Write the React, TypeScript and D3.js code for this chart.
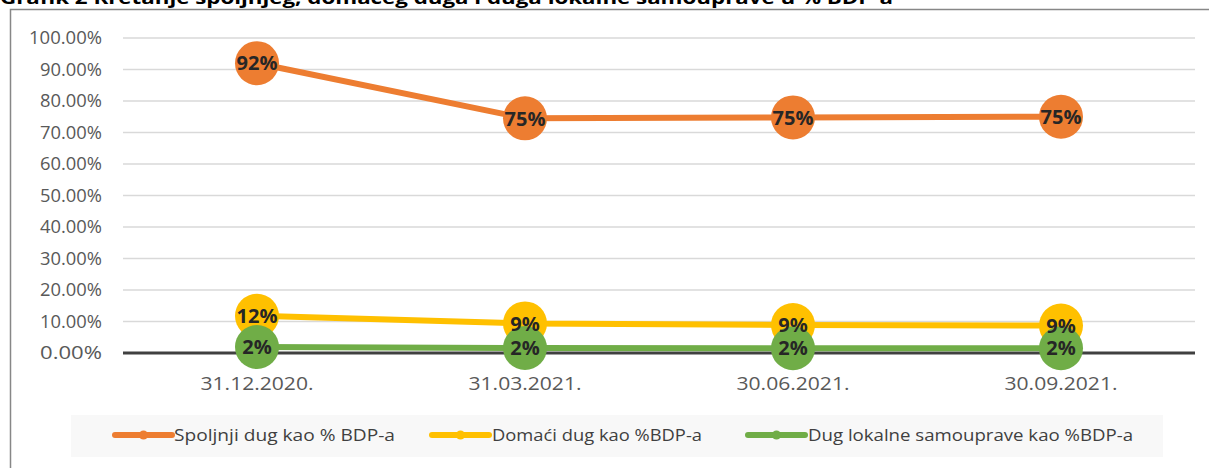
import React from "react";
import * as d3 from "d3";

const categories = ["31.12.2020.", "31.03.2021.", "30.06.2021.", "30.09.2021."];
const seriesNames = ["Spoljnji dug kao % BDP-a", "Domaći dug kao %BDP-a", "Dug lokalne samouprave kao %BDP-a"];
const spoljnji = [0.92, 0.745, 0.748, 0.75];
const domaci = [0.118, 0.094, 0.089, 0.087];
const lokalni = [0.019, 0.016, 0.015, 0.015];
const labelsSpoljnji = ["92%", "75%", "75%", "75%"];
const labelsDomaci = ["12%", "9%", "9%", "9%"];
const labelsLokalni = ["2%", "2%", "2%", "2%"];
const yTicks = [0, 0.1, 0.2, 0.3, 0.4, 0.5, 0.6, 0.7, 0.8, 0.9, 1.0];
const colors = ["#ED7D31", "#FFC000", "#70AD47"];
const title = "Grafik 2 Kretanje spoljnjeg, domaćeg duga i duga lokalne samouprave u % BDP-a";

const W = 1209, H = 468;
const plotL = 123, plotR = 1195, plotT = 38, plotB = 353;

export default function App() {
  const x = d3.scaleBand<string>().domain(categories).range([plotL, plotR]);
  const y = d3.scaleLinear().domain([0, 1]).range([plotB, plotT]);
  const cx = (c: string) => (x(c) as number) + x.bandwidth() / 2;
  const series = [
    { name: seriesNames[0], values: spoljnji, labels: labelsSpoljnji, color: colors[0] },
    { name: seriesNames[1], values: domaci, labels: labelsDomaci, color: colors[1] },
    { name: seriesNames[2], values: lokalni, labels: labelsLokalni, color: colors[2] },
  ];
  const line = d3.line<number>().x((_, i) => cx(categories[i])).y((d) => y(d));
  const fmt = d3.format(".2%");
  const legendItems = [
    { lx: 115, tx: 174, tw: 221 },
    { lx: 432, tx: 492, tw: 210 },
    { lx: 748, tx: 808, tw: 325 },
  ];
  return (
    <div style={{ position: "absolute", left: 0, top: 0 }}>
      <svg width={W} height={H} style={{ display: "block" }} fontFamily="'Open Sans', sans-serif">
        <rect x={0} y={0} width={W} height={H} fill="#fff" />
        <text x={0} y={3.5} fontSize={18} fontWeight="bold" fill="#000" textLength={893} lengthAdjust="spacingAndGlyphs">{title}</text>
        <rect x={10.5} y={9.5} width={1400} height={700} fill="none" stroke="#878787" strokeWidth={1.5} />
        {yTicks.map((t) => (
          <g key={t}>
            {t > 0 && <line x1={plotL} x2={plotR} y1={y(t)} y2={y(t)} stroke="#d9d9d9" strokeWidth={1.5} />}
            <text x={102} y={y(t)} dy="0.36em" textAnchor="end" fontSize={17.5} fill="#595959" textLength={t === 1 ? 73 : 62} lengthAdjust="spacingAndGlyphs">{fmt(t)}</text>
          </g>
        ))}
        <line x1={plotL} x2={plotR} y1={y(0)} y2={y(0)} stroke="#404040" strokeWidth={3} />
        {categories.map((c) => (
          <text key={c} x={cx(c)} y={383} dy="0.36em" textAnchor="middle" fontSize={19} fill="#595959" textLength={113} lengthAdjust="spacingAndGlyphs">{c}</text>
        ))}
        {series.map((s) => (
          <g key={s.name}>
            <path d={line(s.values) || ""} fill="none" stroke={s.color} strokeWidth={6} strokeLinejoin="round" />
            {s.values.map((v, i) => (
              <circle key={i} cx={cx(categories[i])} cy={y(v)} r={22} fill={s.color} />
            ))}
          </g>
        ))}
        {series.map((s) => (
          <g key={s.name + "l"}>
            {s.values.map((v, i) => (
              <text key={i} x={cx(categories[i])} y={y(v)} dy="0.36em" textAnchor="middle" fontSize={20} fontWeight="bold" fill="#262626">{s.labels[i]}</text>
            ))}
          </g>
        ))}
        <rect x={71} y={415} width={1092} height={42} fill="#f8f8f8" />
        {series.map((s, i) => {
          const it = legendItems[i];
          return (
            <g key={s.name + "lg"}>
              <line x1={it.lx} x2={it.lx + 57} y1={435} y2={435} stroke={s.color} strokeWidth={6} strokeLinecap="round" />
              <circle cx={it.lx + 28.5} cy={435} r={4.5} fill={s.color} />
              <text x={it.tx} y={435} dy="0.36em" fontSize={17} fill="#404040" textLength={it.tw} lengthAdjust="spacingAndGlyphs">{s.name}</text>
            </g>
          );
        })}
      </svg>
    </div>
  );
}
